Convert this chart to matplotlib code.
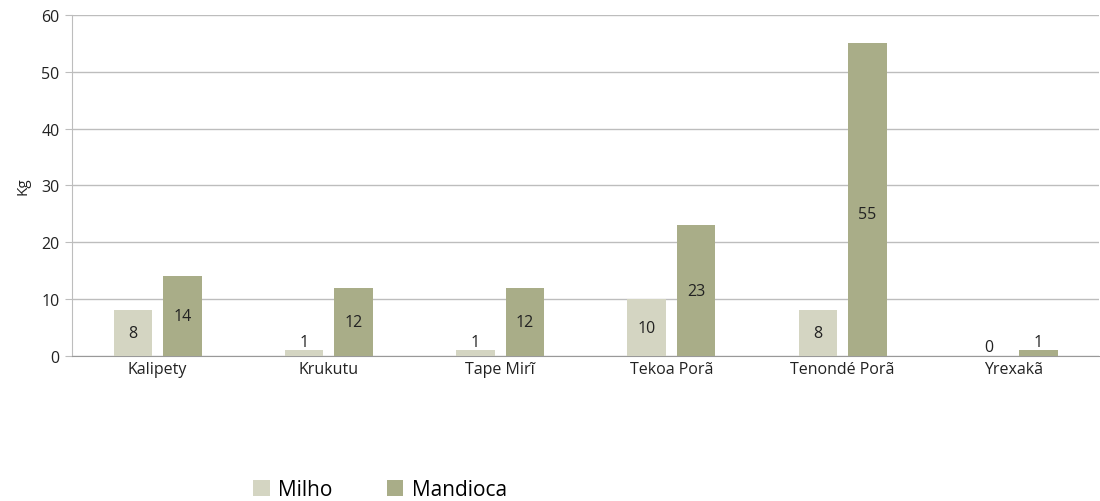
import numpy as np
import matplotlib
matplotlib.use("Agg")
import matplotlib.pyplot as plt

plt.rcParams['font.family'] = ['Open Sans', 'DejaVu Sans']

aldeias = ['Kalipety', 'Krukutu', 'Tape Mirĩ', 'Tekoa Porã', 'Tenondé Porã', 'Yrexakã']
milho = [8, 1, 1, 10, 8, 0]
mandioca = [14, 12, 12, 23, 55, 1]

c_milho = '#D4D5C2'
c_mand = '#A9AD88'
grid_c = '#BDBDBD'

fig = plt.figure(figsize=(11, 5.02), dpi=100)
ax = fig.add_axes([0.0655, 0.289, 0.934, 0.679])

x = np.arange(len(aldeias))
w = 0.225
gap = 0.032
b1 = ax.bar(x - w / 2 - gap, milho, w, color=c_milho, label='Milho', zorder=3)
b2 = ax.bar(x + w / 2 + gap, mandioca, w, color=c_mand, label='Mandioca', zorder=3)

for bars, vals in ((b1, milho), (b2, mandioca)):
    for r, v in zip(bars, vals):
        cx = r.get_x() + r.get_width() / 2
        if v >= 5:
            y = v / 2
            if v > 40:
                y = v / 2 - 2.5
        else:
            y = v + 1.5
        ax.text(cx, y, str(v), ha='center', va='center', fontsize=11.5, color='#222222', zorder=4)

ax.set_xlim(-0.5, len(aldeias) - 0.5)
ax.set_ylim(0, 60)
ax.set_yticks(range(0, 61, 10))
ax.set_xticks(x)
ax.set_xticklabels(aldeias)
ax.yaxis.grid(True, color=grid_c, lw=1, zorder=0)
ax.set_axisbelow(True)
for s in ('top', 'right'):
    ax.spines[s].set_visible(False)
ax.spines['left'].set_color(grid_c)
ax.spines['bottom'].set_color('#999999')
ax.tick_params(axis='y', length=5, color=grid_c, labelsize=11.5, labelcolor='#222222', pad=4)
ax.tick_params(axis='x', length=0, labelsize=11.5, labelcolor='#222222', pad=4)
ax.set_ylabel('Kg', fontsize=11, color='#222222', labelpad=8)

fig.legend(handles=[b1, b2], labels=['Milho', 'Mandioca'], loc='lower left',
           bbox_to_anchor=(0.213, -0.035), ncol=2, frameon=False, fontsize=15,
           handlelength=0.8, handleheight=0.8, handletextpad=0.4, columnspacing=2.6)

fig.savefig('out.png', dpi=100)
